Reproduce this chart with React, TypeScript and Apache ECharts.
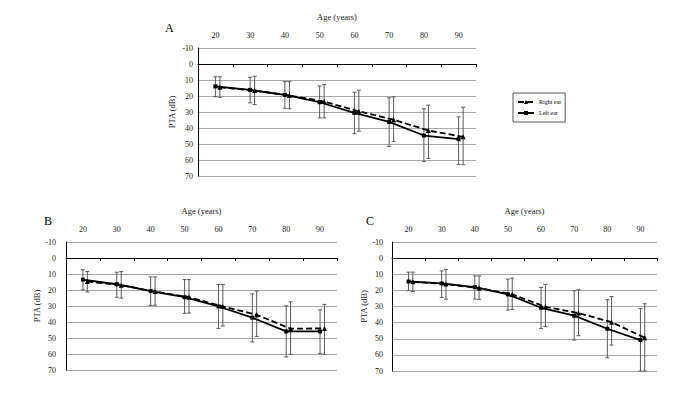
import React, { useEffect, useRef } from "react";
import * as echarts from "echarts";

const ages = [20, 30, 40, 50, 60, 70, 80, 90];
const xLabelValues = [20, 30, 40, 50, 60, 70, 80, 90];
const xTickValues = [25, 35, 45, 55, 65, 75, 85, 95];
const rightOffset = 1.3;

const aLeftMean = [14, 16.2, 19.3, 23.9, 30.6, 36.2, 44.7, 47];
const aLeftLo = [8, 8.3, 11, 13.7, 17.6, 21.1, 28, 33];
const aLeftHi = [20.4, 24.3, 27.7, 33.7, 43.6, 51.5, 61, 62.8];
const aRightMean = [14.6, 16.6, 19.7, 23.5, 29.6, 34.8, 41.6, 45.5];
const aRightLo = [8, 7.7, 11, 12.9, 16.4, 20.5, 25.7, 27];
const aRightHi = [20.8, 25.4, 28, 33.7, 42, 48.5, 59, 63];

const bLeftMean = [13.5, 16.4, 20.7, 24.5, 30.3, 37.3, 45.9, 45.9];
const bLeftLo = [7.3, 8.9, 11.8, 13.5, 16.6, 22.4, 29.9, 32.4];
const bLeftHi = [19.9, 24.5, 29.7, 34.6, 44, 52.5, 61.8, 59.8];
const bRightMean = [14.7, 17, 21, 24.5, 30.3, 35.5, 44.2, 44];
const bRightLo = [8.5, 8.5, 11.8, 13.5, 16.6, 20.7, 27.4, 29];
const bRightHi = [21.2, 25.1, 29.5, 34.4, 42.5, 49, 60.2, 60.2];

const cLeftMean = [14.5, 15.7, 18, 22.5, 30.8, 35.7, 43.8, 50.8];
const cLeftLo = [8.7, 7.9, 11, 13, 18.2, 20.2, 25.8, 31.2];
const cLeftHi = [20.2, 24.4, 25.4, 32.2, 43.6, 50.8, 61.8, 70];
const cRightMean = [14.7, 16.1, 18.6, 22.5, 30.2, 34.1, 39.7, 49.4];
const cRightLo = [8.7, 7, 11, 12.4, 16.3, 19.6, 23.8, 28.3];
const cRightHi = [20.7, 25.4, 25.6, 31.8, 42.4, 48.1, 53.9, 70];

const panels = [
  { label: "A", leftMean: aLeftMean, leftLo: aLeftLo, leftHi: aLeftHi, rightMean: aRightMean, rightLo: aRightLo, rightHi: aRightHi },
  { label: "B", leftMean: bLeftMean, leftLo: bLeftLo, leftHi: bLeftHi, rightMean: bRightMean, rightLo: bRightLo, rightHi: bRightHi },
  { label: "C", leftMean: cLeftMean, leftLo: cLeftLo, leftHi: cLeftHi, rightMean: cRightMean, rightLo: cRightLo, rightHi: cRightHi },
];

const grids = [
  { left: 198, top: 48, width: 278, height: 128, labelMargin: 5, yNameGap: 22, letterX: 170, letterY: 30 },
  { left: 66, top: 242, width: 271, height: 128, labelMargin: 10, yNameGap: 24, letterX: 49, letterY: 223 },
  { left: 392, top: 242, width: 265, height: 129, labelMargin: 9, yNameGap: 24, letterX: 371, letterY: 223 },
];

const FONT = "Liberation Serif";

export default function App() {
  const ref = useRef<HTMLDivElement>(null);
  useEffect(() => {
    if (!ref.current) return;
    const chart = echarts.init(ref.current, null, { renderer: "svg" });

    const errRender = (params: any, api: any) => {
      const x = api.value(0);
      const p1 = api.coord([x, api.value(1)]);
      const p2 = api.coord([x, api.value(2)]);
      const cap = 2;
      const style = { stroke: "#5a5a5a", lineWidth: 1 };
      return {
        type: "group",
        children: [
          { type: "line", shape: { x1: p1[0], y1: p1[1], x2: p2[0], y2: p2[1] }, style },
          { type: "line", shape: { x1: p1[0] - cap, y1: p1[1], x2: p1[0] + cap, y2: p1[1] }, style },
          { type: "line", shape: { x1: p2[0] - cap, y1: p2[1], x2: p2[0] + cap, y2: p2[1] }, style },
        ],
      };
    };

    const series: any[] = [];
    panels.forEach((p, i) => {
      series.push({
        type: "custom",
        name: "Left ear err",
        xAxisIndex: i,
        yAxisIndex: i,
        renderItem: errRender,
        encode: { x: 0, y: [1, 2] },
        data: ages.map((a, k) => [a, p.leftLo[k], p.leftHi[k]]),
        z: 1,
      });
      series.push({
        type: "custom",
        name: "Right ear err",
        xAxisIndex: i,
        yAxisIndex: i,
        renderItem: errRender,
        encode: { x: 0, y: [1, 2] },
        data: ages.map((a, k) => [a + rightOffset, p.rightLo[k], p.rightHi[k]]),
        z: 1,
      });
      series.push({
        type: "line",
        name: "Right ear",
        xAxisIndex: i,
        yAxisIndex: i,
        data: ages.map((a, k) => [a + rightOffset, p.rightMean[k]]),
        symbol: "triangle",
        symbolSize: 5,
        itemStyle: { color: "#000" },
        lineStyle: { color: "#000", width: 1.8, type: [6, 3] },
        z: 3,
      });
      series.push({
        type: "line",
        name: "Left ear",
        xAxisIndex: i,
        yAxisIndex: i,
        data: ages.map((a, k) => [a, p.leftMean[k]]),
        symbol: "rect",
        symbolSize: 4,
        itemStyle: { color: "#000" },
        lineStyle: { color: "#000", width: 1.8 },
        z: 4,
      });
    });

    const option: any = {
      animation: false,
      backgroundColor: "#fff",
      textStyle: { fontFamily: FONT, fontWeight: "normal" },
      grid: grids.map((g) => ({ left: g.left, top: g.top, width: g.width, height: g.height })),
      xAxis: grids.map((g, i) => ({
        type: "value",
        gridIndex: i,
        position: "top",
        min: 15,
        max: 95,
        name: "Age (years)",
        nameLocation: "middle",
        nameGap: 27,
        nameTextStyle: { fontFamily: FONT, fontSize: 8.5, fontWeight: "normal", color: "#222" },
        axisLine: { show: true, lineStyle: { color: "#000", width: 1 } },
        axisTick: { show: true, inside: true, length: 3, customValues: xTickValues, lineStyle: { color: "#000" } },
        axisLabel: { customValues: xLabelValues, fontFamily: FONT, fontSize: 8, fontWeight: "normal", color: "#222", margin: 9 },
        splitLine: { show: false },
      })),
      yAxis: grids.map((g, i) => ({
        type: "value",
        gridIndex: i,
        inverse: true,
        min: -10,
        max: 70,
        interval: 10,
        name: "PTA (dB)",
        nameLocation: "middle",
        nameGap: g.yNameGap,
        nameRotate: 90,
        nameTextStyle: { fontFamily: FONT, fontSize: 8.5, fontWeight: "normal", color: "#222" },
        axisLine: { show: true, lineStyle: { color: "#000", width: 1 } },
        axisTick: { show: false },
        axisLabel: { fontFamily: FONT, fontSize: 8, fontWeight: "normal", color: "#222", margin: g.labelMargin },
        splitLine: { show: true, lineStyle: { color: "#a8a8a8", width: 1 } },
      })),
      legend: {
        data: ["Right ear", "Left ear"],
        orient: "vertical",
        left: 513,
        top: 93,
        itemWidth: 16,
        itemHeight: 5,
        itemGap: 5,
        padding: [6, 4, 6, 4],
        borderColor: "#555",
        borderWidth: 1,
        textStyle: { fontFamily: FONT, fontSize: 6, fontWeight: "normal", color: "#000" },
      },
      graphic: grids.map((g, i) => ({
        type: "text",
        left: g.letterX - 5,
        top: g.letterY - 8,
        style: { text: panels[i].label, font: `normal 12px ${FONT}`, fill: "#000" },
      })),
      series,
    };
    chart.setOption(option);
    return () => chart.dispose();
  }, []);

  return (
    <div
      ref={ref}
      style={{ position: "absolute", left: 0, top: 0, width: 693, height: 402, background: "#fff" }}
    />
  );
}
